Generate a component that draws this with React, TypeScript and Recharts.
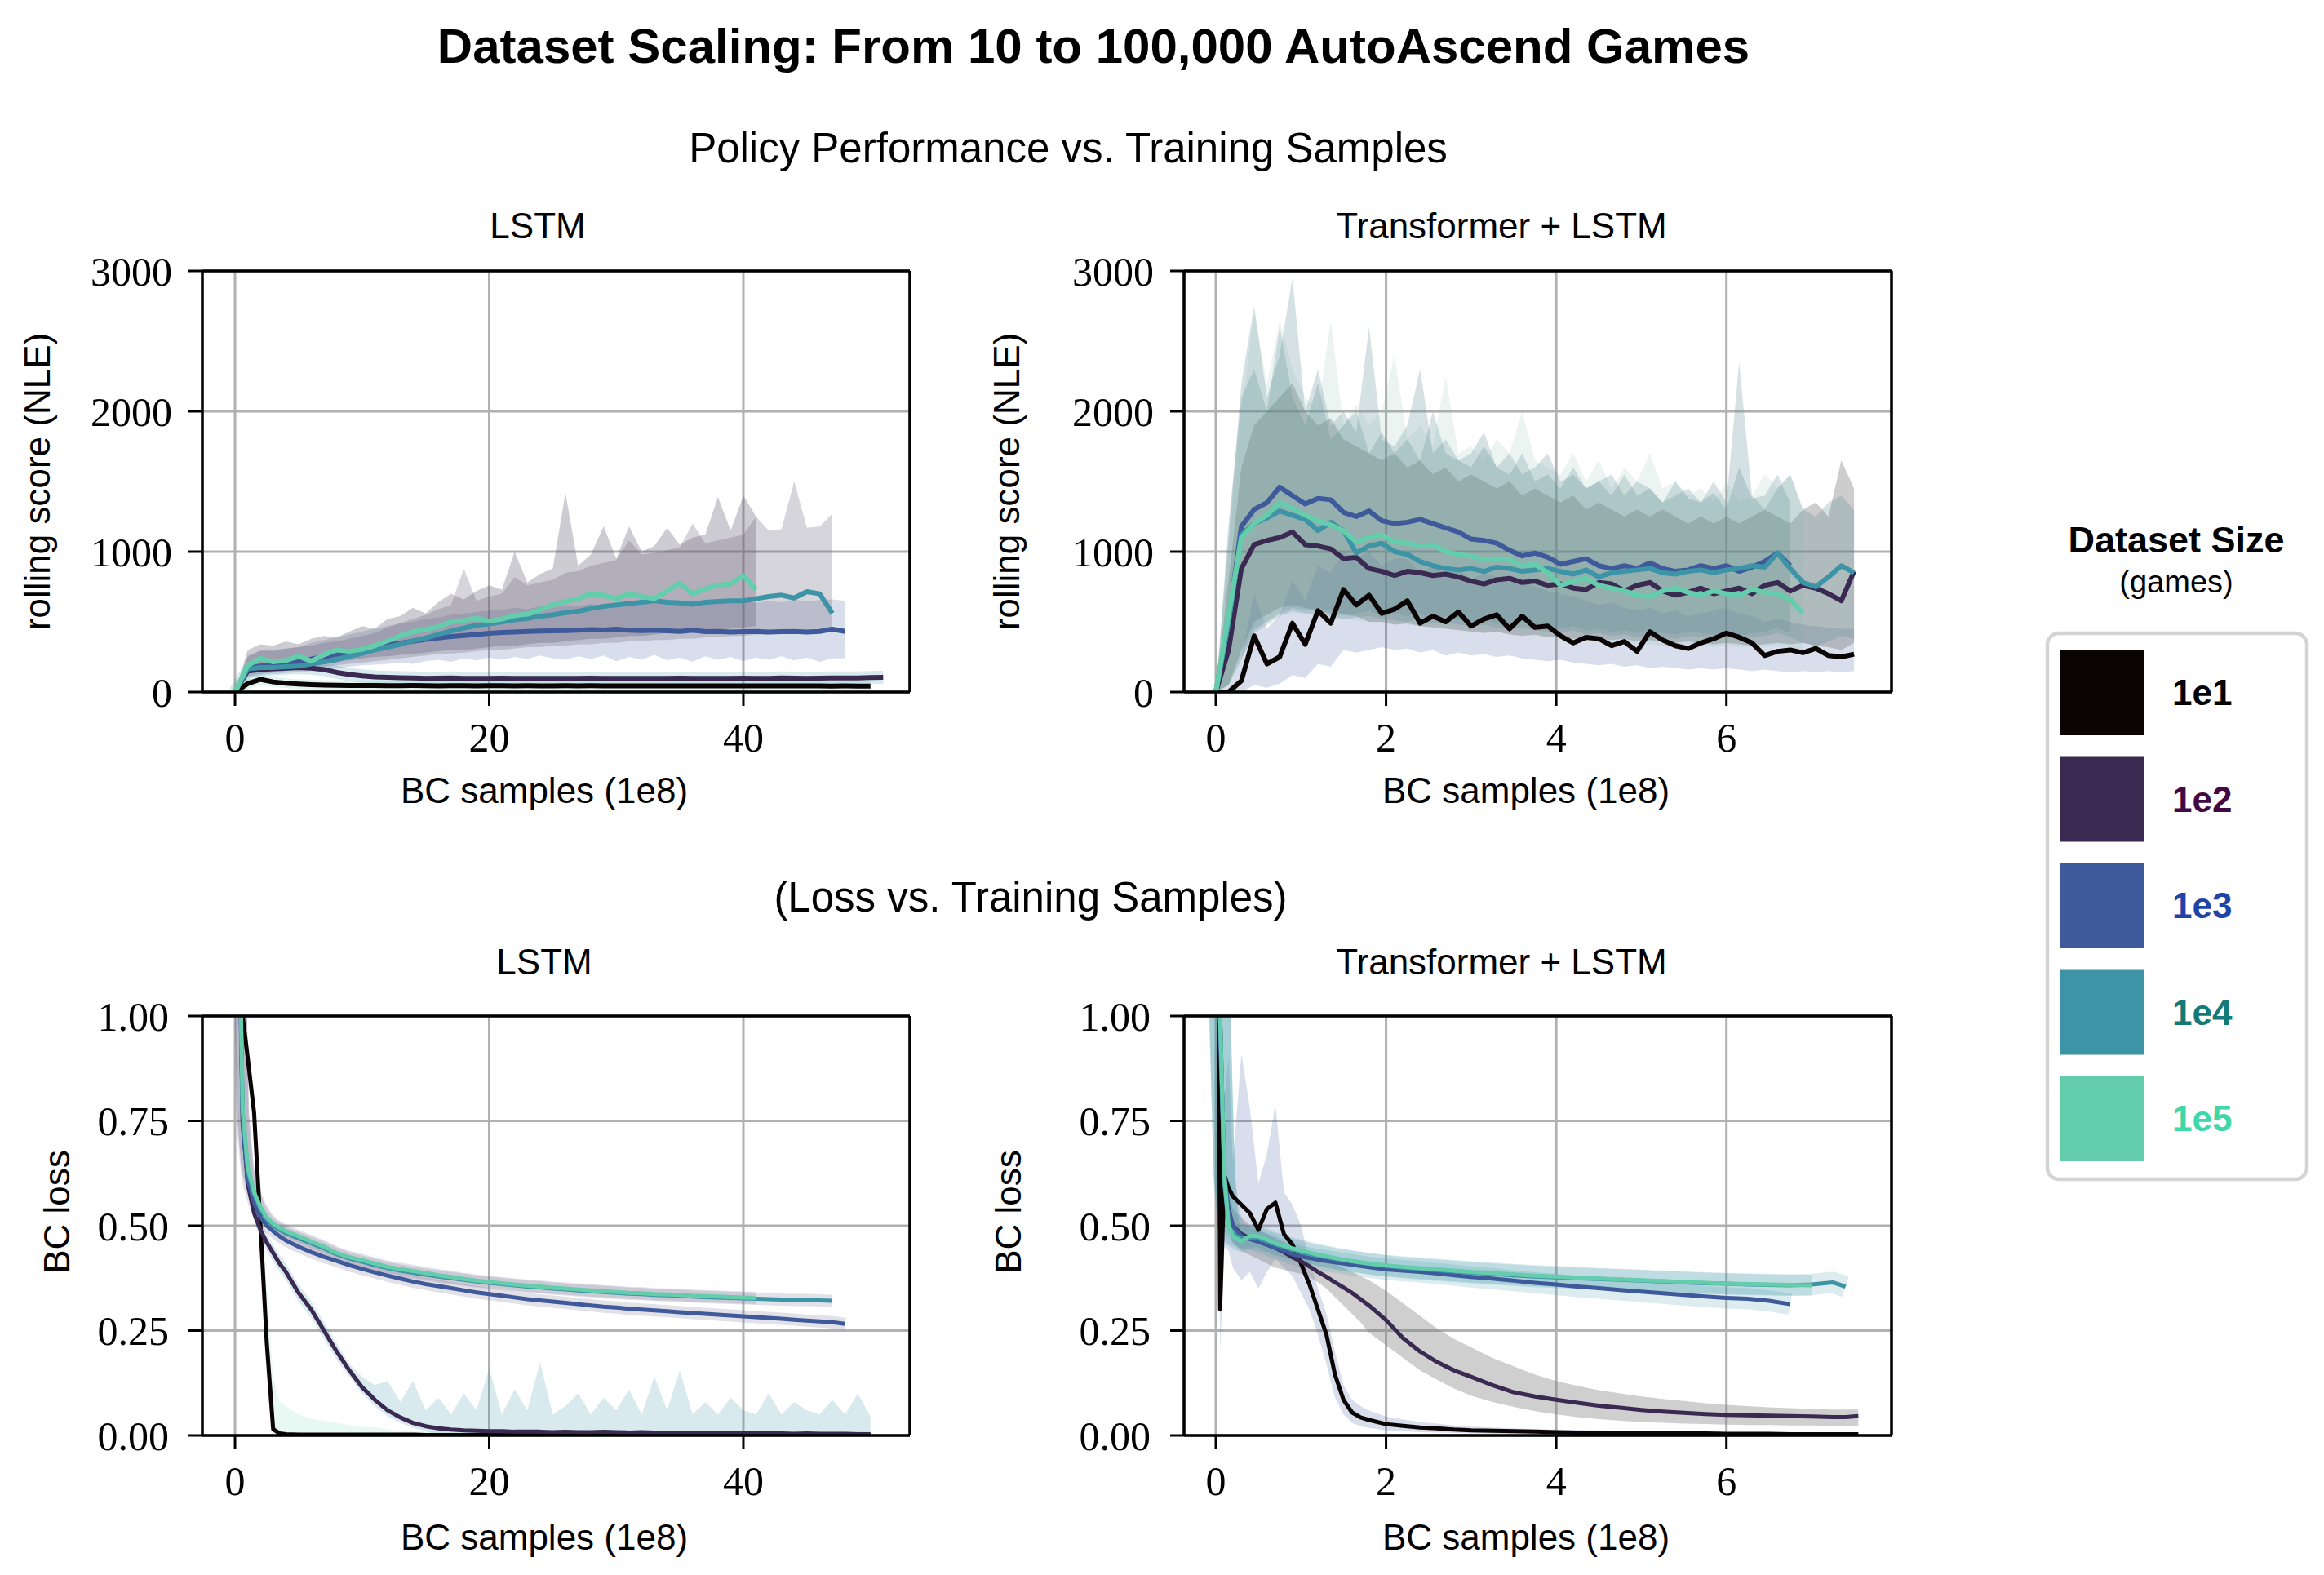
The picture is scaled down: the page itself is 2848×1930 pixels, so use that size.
import React from 'react';
import { Area, CartesianGrid, ComposedChart, Line, ReferenceLine, XAxis, YAxis } from 'recharts';

const SANS = "'Liberation Sans', Arial, Helvetica, sans-serif";
const SERIF = "'Liberation Serif', 'Times New Roman', serif";

const SIZES = ['1e1', '1e2', '1e3', '1e4', '1e5'];
const LINE_COLORS = ['#0b0405', '#3a2951', '#3e5a9b', '#3d94a7', '#64cdab'];
const LABEL_COLORS = ['#000000', '#420a44', '#1f44a8', '#147a78', '#3fd6a8'];

const SCORE_TICKS = [0, 1000, 2000, 3000];
const LOSS_TICKS = [0, 0.25, 0.5, 0.75, 1];
const LSTM_X_TICKS = [0, 20, 40];
const TRANSFORMER_X_TICKS = [0, 2, 4, 6];

// ---- rolling score, LSTM (x in 1e8 BC samples) ----
const scoreLstmX = [0, 1, 2, 3, 4, 5, 6, 7, 8, 9, 10, 11, 12, 13, 14, 15, 16, 17, 18, 19, 20, 21, 22, 23, 24, 25, 26, 27, 28, 29, 30, 31, 32, 33, 34, 35, 36, 37, 38, 39, 40, 41, 42, 43, 44, 45, 46, 47, 48, 49, 50, 51];
const scoreLstm1e1 = [0, 60, 90, 72, 62, 56, 52, 50, 48, 47, 46, 46, 45, 45, 46, 45, 44, 45, 45, 44, 45, 45, 44, 45, 44, 44, 45, 44, 45, 44, 44, 43, 44, 44, 43, 44, 44, 43, 44, 43, 43, 44, 43, 43, 44, 43, 43, 42, 43, 42, 42];
const scoreLstm1e2 = [0, 150, 160, 165, 170, 175, 170, 160, 140, 125, 115, 108, 104, 102, 100, 98, 99, 100, 98, 97, 98, 99, 98, 97, 98, 98, 97, 98, 99, 98, 97, 98, 98, 97, 98, 99, 98, 98, 97, 98, 99, 98, 98, 100, 99, 98, 99, 100, 101, 100, 103, 104];
const scoreLstm1e3 = [0, 170, 185, 195, 205, 215, 235, 250, 268, 285, 300, 318, 335, 348, 362, 375, 385, 395, 403, 410, 418, 425, 428, 432, 435, 436, 438, 440, 445, 442, 448, 440, 438, 440, 436, 432, 440, 430, 432, 428, 430, 432, 428, 430, 432, 428, 432, 448, 432];
const scoreLstm1e4 = [0, 165, 175, 175, 180, 185, 200, 215, 230, 255, 275, 300, 320, 340, 365, 385, 410, 435, 455, 475, 485, 500, 515, 525, 540, 550, 565, 575, 595, 610, 620, 630, 640, 650, 640, 635, 625, 640, 645, 650, 650, 665, 680, 690, 670, 715, 700, 560];
const scoreLstm1e5 = [0, 190, 240, 215, 225, 255, 220, 265, 300, 290, 305, 330, 365, 400, 430, 445, 465, 500, 510, 525, 505, 520, 545, 555, 585, 620, 645, 665, 700, 690, 665, 700, 680, 665, 720, 775, 700, 735, 760, 770, 830, 730];
const scoreLstm1e3Lo = [0, 100, 120, 130, 135, 140, 150, 160, 170, 180, 190, 195, 200, 210, 200, 220, 230, 215, 240, 225, 245, 230, 250, 235, 260, 240, 230, 255, 235, 260, 220, 250, 230, 265, 225, 245, 215, 255, 230, 250, 220, 245, 230, 255, 225, 245, 215, 240, 240];
const scoreLstm1e3Hi = [0, 260, 290, 300, 310, 320, 350, 370, 390, 410, 430, 450, 470, 490, 500, 520, 530, 550, 560, 570, 580, 585, 600, 590, 610, 600, 620, 610, 630, 615, 640, 620, 650, 625, 640, 630, 655, 630, 650, 640, 660, 635, 650, 640, 660, 645, 655, 660, 650];
const scoreLstm1e4Lo = [0, 110, 130, 140, 150, 160, 170, 180, 190, 200, 210, 220, 230, 240, 250, 260, 270, 275, 280, 290, 300, 300, 310, 320, 320, 330, 330, 340, 340, 350, 350, 360, 360, 370, 370, 380, 380, 390, 390, 400, 400, 410, 410, 420, 420, 420, 430, 430];
const scoreLstm1e4Hi = [0, 250, 300, 290, 310, 320, 330, 350, 360, 380, 400, 420, 460, 490, 520, 550, 590, 620, 880, 650, 680, 700, 820, 760, 780, 800, 850, 860, 900, 920, 940, 1080, 980, 990, 1010, 1030, 1200, 1060, 1080, 1100, 1120, 1250, 1150, 1160, 1500, 1170, 1180, 1270];
const scoreLstm1e5Lo = [0, 130, 160, 170, 180, 190, 200, 210, 215, 225, 240, 250, 255, 265, 270, 280, 290, 300, 300, 310, 320, 330, 330, 340, 350, 350, 360, 370, 380, 380, 390, 400, 400, 410, 420, 430, 430, 440, 445, 450, 460, 470];
const scoreLstm1e5Hi = [0, 300, 340, 330, 360, 340, 380, 400, 390, 430, 470, 450, 520, 540, 600, 560, 640, 700, 660, 720, 760, 730, 1000, 780, 840, 880, 1420, 900, 980, 1180, 950, 1180, 1000, 1040, 1170, 1050, 1100, 1120, 1390, 1150, 1400, 1250];

// ---- rolling score, Transformer + LSTM ----
const scoreTrX = [0, 0.15, 0.3, 0.45, 0.6, 0.75, 0.9, 1.05, 1.2, 1.35, 1.5, 1.65, 1.8, 1.95, 2.1, 2.25, 2.4, 2.55, 2.7, 2.85, 3, 3.15, 3.3, 3.45, 3.6, 3.75, 3.9, 4.05, 4.2, 4.35, 4.5, 4.65, 4.8, 4.95, 5.1, 5.25, 5.4, 5.55, 5.7, 5.85, 6, 6.15, 6.3, 6.45, 6.6, 6.75, 6.9, 7.05, 7.2, 7.35, 7.5];
const scoreTr1e1 = [0, 0, 80, 400, 200, 250, 490, 340, 580, 490, 730, 620, 690, 560, 590, 650, 490, 540, 500, 570, 470, 520, 550, 450, 540, 460, 470, 400, 350, 390, 380, 330, 360, 290, 430, 370, 330, 310, 350, 380, 420, 390, 350, 260, 290, 300, 280, 310, 260, 250, 270];
const scoreTr1e2 = [0, 300, 880, 1050, 1080, 1100, 1140, 1050, 1040, 1020, 950, 960, 880, 860, 830, 860, 850, 830, 840, 820, 790, 770, 800, 810, 780, 790, 760, 770, 740, 730, 780, 770, 720, 760, 780, 720, 690, 710, 740, 700, 720, 740, 700, 760, 780, 720, 760, 740, 700, 650, 860];
const scoreTr1e3 = [0, 500, 1180, 1300, 1350, 1460, 1400, 1340, 1380, 1370, 1280, 1250, 1290, 1220, 1200, 1210, 1230, 1200, 1170, 1140, 1090, 1080, 1060, 1010, 970, 990, 960, 910, 930, 950, 900, 880, 900, 880, 920, 880, 860, 870, 900, 880, 900, 860, 890, 930, 990, 900];
const scoreTr1e4 = [0, 500, 1120, 1200, 1240, 1290, 1260, 1230, 1150, 1210, 1150, 990, 1040, 1060, 1000, 980, 930, 900, 880, 870, 880, 860, 890, 880, 860, 870, 880, 860, 840, 870, 820, 850, 860, 870, 880, 850, 840, 860, 870, 850, 870, 880, 900, 890, 990, 880, 780, 750, 820, 900, 850];
const scoreTr1e5 = [0, 550, 1100, 1200, 1260, 1350, 1310, 1260, 1220, 1190, 1150, 1070, 1100, 1120, 1070, 1060, 1040, 1050, 1000, 980, 970, 940, 950, 945, 900, 910, 850, 760, 790, 810, 760, 740, 720, 690, 680, 720, 740, 710, 690, 720, 700, 690, 730, 710, 700, 660, 560];
const scoreTr1e1Lo = [0, 0, 0, 50, 30, 60, 120, 100, 200, 180, 300, 280, 300, 320, 300, 310, 280, 300, 260, 280, 260, 270, 250, 260, 240, 230, 220, 230, 210, 200, 190, 200, 180, 190, 170, 180, 170, 160, 170, 160, 170, 160, 150, 160, 150, 140, 150, 140, 150, 140, 150];
const scoreTr1e1Hi = [0, 50, 250, 700, 450, 550, 800, 650, 900, 850, 1000, 950, 1000, 900, 950, 950, 850, 900, 850, 880, 800, 850, 820, 780, 800, 750, 720, 700, 680, 650, 620, 640, 600, 580, 600, 560, 580, 540, 560, 580, 600, 560, 540, 500, 520, 500, 480, 470, 460, 450, 450];
const scoreTr1e2Lo = [0, 50, 300, 500, 550, 600, 620, 600, 580, 560, 550, 540, 500, 500, 480, 490, 470, 460, 450, 440, 430, 420, 430, 410, 400, 410, 390, 400, 380, 390, 380, 370, 380, 360, 370, 360, 350, 360, 350, 340, 350, 340, 330, 340, 350, 340, 350, 330, 320, 300, 350];
const scoreTr1e2Hi = [0, 800, 1600, 1900, 2000, 2100, 2200, 2000, 1900, 1950, 1800, 1750, 1700, 1650, 1700, 1600, 1650, 1550, 1600, 1500, 1550, 1500, 1450, 1500, 1400, 1450, 1400, 1350, 1400, 1300, 1350, 1300, 1250, 1300, 1250, 1300, 1250, 1200, 1250, 1200, 1250, 1200, 1250, 1300, 1250, 1200, 1300, 1350, 1250, 1650, 1450];
const scoreTr1e3Lo = [0, 50, 250, 450, 500, 560, 600, 580, 600, 580, 560, 560, 580, 540, 560, 540, 560, 520, 540, 520, 500, 520, 490, 480, 500, 470, 460, 450, 470, 440, 450, 430, 440, 420, 440, 420, 410, 430, 420, 410, 430, 400, 420, 430, 460, 420];
const scoreTr1e3Hi = [0, 1200, 2100, 2300, 2000, 2600, 2100, 1900, 2200, 1800, 1900, 2000, 1700, 1850, 1700, 1800, 1650, 2000, 1700, 1650, 1600, 1750, 1600, 1550, 1700, 1500, 1550, 1450, 1600, 1450, 1500, 1400, 1550, 1400, 1450, 1350, 1500, 1380, 1350, 1420, 1300, 1600, 1380, 1400, 1550, 1350];
const scoreTr1e4Lo = [0, 50, 230, 420, 480, 540, 580, 560, 560, 540, 520, 530, 540, 520, 510, 500, 520, 490, 500, 480, 470, 480, 460, 450, 460, 440, 430, 420, 440, 410, 420, 400, 410, 390, 410, 390, 380, 400, 390, 380, 400, 380, 390, 400, 420, 390, 350, 330, 360, 400, 380];
const scoreTr1e4Hi = [0, 1100, 2200, 2750, 2100, 2400, 2950, 2000, 2300, 1900, 2000, 1850, 2600, 1800, 1750, 1900, 2300, 1700, 1800, 1650, 1700, 1850, 1600, 1700, 1550, 1600, 1700, 1500, 1550, 1450, 1500, 1550, 1400, 1500, 1450, 1350, 1400, 1450, 1350, 1500, 1350, 2350, 1400, 1300, 1450, 1550, 1300, 1250, 1350, 1400, 1300];
const scoreTr1e5Lo = [0, 60, 260, 440, 500, 550, 560, 560, 540, 530, 520, 510, 500, 500, 490, 480, 470, 470, 460, 450, 440, 430, 430, 420, 410, 400, 400, 390, 380, 370, 360, 360, 350, 340, 340, 330, 330, 340, 330, 320, 330, 320, 330, 320, 330, 320, 300];
const scoreTr1e5Hi = [0, 1000, 2000, 2700, 2200, 2650, 2300, 2100, 2000, 2650, 1900, 2050, 1900, 2000, 2400, 1800, 1900, 1750, 2250, 1700, 1750, 1650, 1800, 1700, 2000, 1650, 1600, 1550, 1700, 1500, 1650, 1450, 1600, 1500, 1700, 1450, 1500, 1400, 1450, 1350, 1500, 1350, 1400, 1550, 1450, 1550, 1300];

// ---- BC loss, LSTM ----
const lossLstmX = [0.3, 0.6, 1, 1.5, 2, 2.5, 3, 3.5, 4, 5, 6, 7, 8, 9, 10, 11, 12, 13, 14, 15, 16, 17, 18, 19, 20, 21, 22, 23, 24, 25, 26, 27, 28, 29, 30, 31, 32, 33, 34, 35, 36, 37, 38, 39, 40, 41, 42, 43, 44, 45, 46, 47, 48, 49, 50];
const lossLstm1e1 = [1.4, 1.0, 0.9, 0.77, 0.5, 0.22, 0.015, 0.005, 0.003, 0.002, 0.002, 0.002, 0.002, 0.002, 0.002, 0.002, 0.002, 0.002, 0.002, 0.001, 0.001, 0.001, 0.001, 0.001, 0.001, 0.001, 0.001, 0.001, 0.001, 0.001, 0.001, 0.001, 0.001, 0.001, 0.001, 0.001, 0.001, 0.001, 0.001, 0.001, 0.001, 0.001, 0.001, 0.001, 0.001, 0.001, 0.001, 0.001, 0.001, 0.001, 0.001, 0.001, 0.001, 0.001, 0.001];
const lossLstm1e2 = [1.3, 0.75, 0.6, 0.53, 0.49, 0.46, 0.435, 0.41, 0.39, 0.34, 0.3, 0.25, 0.2, 0.155, 0.115, 0.085, 0.06, 0.043, 0.03, 0.022, 0.017, 0.014, 0.012, 0.011, 0.01, 0.01, 0.009, 0.009, 0.009, 0.008, 0.009, 0.008, 0.008, 0.009, 0.008, 0.007, 0.008, 0.007, 0.007, 0.006, 0.007, 0.006, 0.006, 0.005, 0.006, 0.005, 0.005, 0.005, 0.004, 0.005, 0.004, 0.004, 0.004, 0.003, 0.003];
const lossLstm1e3 = [1.25, 0.74, 0.61, 0.555, 0.52, 0.5, 0.487, 0.475, 0.465, 0.45, 0.437, 0.426, 0.416, 0.406, 0.397, 0.389, 0.381, 0.374, 0.367, 0.361, 0.356, 0.351, 0.346, 0.341, 0.337, 0.333, 0.329, 0.325, 0.322, 0.319, 0.316, 0.313, 0.31, 0.307, 0.305, 0.302, 0.3, 0.298, 0.296, 0.294, 0.292, 0.29, 0.288, 0.286, 0.284, 0.282, 0.28, 0.278, 0.276, 0.274, 0.272, 0.27, 0.266];
const lossLstm1e4 = [1.3, 0.77, 0.63, 0.575, 0.54, 0.515, 0.5, 0.49, 0.482, 0.47, 0.458, 0.446, 0.432, 0.422, 0.414, 0.406, 0.399, 0.393, 0.388, 0.383, 0.379, 0.375, 0.371, 0.367, 0.364, 0.361, 0.358, 0.355, 0.353, 0.35, 0.348, 0.346, 0.344, 0.342, 0.34, 0.338, 0.337, 0.335, 0.334, 0.333, 0.331, 0.33, 0.329, 0.328, 0.327, 0.326, 0.325, 0.324, 0.323, 0.323, 0.322, 0.321];
const lossLstm1e5 = [1.3, 0.78, 0.64, 0.58, 0.545, 0.52, 0.505, 0.495, 0.487, 0.475, 0.462, 0.45, 0.435, 0.425, 0.418, 0.41, 0.402, 0.397, 0.392, 0.387, 0.382, 0.378, 0.373, 0.369, 0.366, 0.363, 0.36, 0.357, 0.355, 0.352, 0.35, 0.348, 0.346, 0.344, 0.342, 0.34, 0.339, 0.337, 0.336, 0.335, 0.333, 0.332, 0.331, 0.33, 0.329, 0.328];
const lossLstm1e1Lo = [1.2, 0.95, 0.85, 0.72, 0.42, 0.12, 0, 0, 0, 0, 0, 0, 0, 0, 0, 0, 0, 0, 0, 0, 0, 0, 0, 0, 0, 0, 0, 0, 0, 0, 0, 0, 0, 0, 0, 0, 0, 0, 0, 0, 0, 0, 0, 0, 0, 0, 0, 0, 0, 0, 0, 0, 0, 0, 0];
const lossLstm1e1Hi = [1.4, 1.0, 0.95, 0.8, 0.6, 0.35, 0.14, 0.08, 0.07, 0.05, 0.04, 0.035, 0.03, 0.025, 0.02, 0.02, 0.015, 0.01, 0.01, 0.01, 0.01, 0.01, 0.01, 0.01, 0.01, 0.01, 0.01, 0.01, 0.01, 0.01, 0.01, 0.01, 0.01, 0.01, 0.01, 0.01, 0.01, 0.01, 0.01, 0.01, 0.01, 0.01, 0.01, 0.01, 0.01, 0.01, 0.01, 0.01, 0.01, 0.01, 0.01, 0.01, 0.01, 0.01, 0.01];
const lossLstm1e2Lo = [1.2, 0.72, 0.58, 0.51, 0.47, 0.44, 0.415, 0.39, 0.37, 0.32, 0.28, 0.23, 0.18, 0.14, 0.1, 0.07, 0.045, 0.03, 0.018, 0.01, 0, 0, 0, 0, 0, 0, 0, 0, 0, 0, 0, 0, 0, 0, 0, 0, 0, 0, 0, 0, 0, 0, 0, 0, 0, 0, 0, 0, 0, 0, 0, 0, 0, 0, 0];
const lossLstm1e2Hi = [1.3, 0.78, 0.62, 0.55, 0.51, 0.48, 0.455, 0.43, 0.41, 0.36, 0.32, 0.27, 0.22, 0.17, 0.14, 0.12, 0.13, 0.08, 0.13, 0.06, 0.09, 0.05, 0.1, 0.06, 0.16, 0.05, 0.11, 0.06, 0.175, 0.05, 0.07, 0.1, 0.05, 0.09, 0.06, 0.11, 0.05, 0.14, 0.06, 0.155, 0.05, 0.08, 0.05, 0.09, 0.06, 0.05, 0.1, 0.05, 0.08, 0.06, 0.05, 0.085, 0.05, 0.1, 0.045];

// ---- BC loss, Transformer + LSTM ----
const lossTrX = [0.03, 0.05, 0.1, 0.15, 0.2, 0.3, 0.4, 0.5, 0.6, 0.7, 0.8, 0.9, 1.0, 1.1, 1.2, 1.3, 1.4, 1.5, 1.6, 1.7, 1.8, 2.0, 2.2, 2.4, 2.6, 2.8, 3.0, 3.25, 3.5, 3.75, 4.0, 4.25, 4.5, 4.75, 5.0, 5.25, 5.5, 5.75, 6.0, 6.25, 6.5, 6.75, 7.0, 7.25, 7.4, 7.55];
const lossTr1e1 = [1.3, 0.3, 0.62, 0.59, 0.57, 0.55, 0.53, 0.49, 0.54, 0.555, 0.48, 0.455, 0.41, 0.36, 0.3, 0.24, 0.145, 0.085, 0.055, 0.043, 0.037, 0.027, 0.023, 0.019, 0.017, 0.014, 0.012, 0.011, 0.01, 0.009, 0.008, 0.007, 0.007, 0.006, 0.006, 0.005, 0.005, 0.005, 0.004, 0.004, 0.004, 0.003, 0.003, 0.003, 0.003, 0.003];
const lossTr1e2 = [1.3, 1.0, 0.6, 0.53, 0.5, 0.48, 0.47, 0.462, 0.455, 0.447, 0.437, 0.425, 0.415, 0.403, 0.39, 0.378, 0.365, 0.353, 0.34, 0.325, 0.31, 0.275, 0.232, 0.2, 0.175, 0.155, 0.14, 0.12, 0.103, 0.093, 0.085, 0.078, 0.071, 0.066, 0.061, 0.057, 0.054, 0.051, 0.049, 0.048, 0.047, 0.046, 0.045, 0.044, 0.044, 0.046];
const lossTr1e3 = [1.3, 0.95, 0.62, 0.54, 0.5, 0.475, 0.468, 0.462, 0.455, 0.447, 0.44, 0.432, 0.427, 0.423, 0.419, 0.416, 0.413, 0.41, 0.407, 0.404, 0.401, 0.396, 0.393, 0.39, 0.386, 0.382, 0.378, 0.374, 0.369, 0.364, 0.36, 0.355, 0.351, 0.347, 0.343, 0.339, 0.335, 0.331, 0.328, 0.326, 0.321, 0.313];
const lossTr1e4 = [1.3, 1.0, 0.6, 0.5, 0.48, 0.47, 0.472, 0.47, 0.462, 0.455, 0.449, 0.443, 0.438, 0.433, 0.429, 0.425, 0.421, 0.418, 0.415, 0.412, 0.409, 0.404, 0.4, 0.397, 0.394, 0.391, 0.388, 0.385, 0.382, 0.379, 0.377, 0.375, 0.373, 0.371, 0.369, 0.367, 0.365, 0.363, 0.362, 0.36, 0.359, 0.358, 0.36, 0.365, 0.355];
const lossTr1e5 = [1.3, 1.0, 0.62, 0.5, 0.475, 0.463, 0.476, 0.475, 0.467, 0.458, 0.452, 0.446, 0.441, 0.436, 0.431, 0.427, 0.423, 0.419, 0.416, 0.413, 0.41, 0.405, 0.402, 0.399, 0.396, 0.393, 0.39, 0.387, 0.384, 0.381, 0.379, 0.376, 0.374, 0.372, 0.37, 0.368, 0.366, 0.364, 0.362, 0.361, 0.36, 0.359, 0.358];
const lossTr1e1Lo = [1.2, 0.2, 0.45, 0.44, 0.4, 0.37, 0.39, 0.35, 0.39, 0.42, 0.4, 0.38, 0.34, 0.3, 0.24, 0.17, 0.09, 0.05, 0.03, 0.022, 0.018, 0.012, 0.01, 0.008, 0.007, 0.006, 0.005, 0.004, 0.004, 0.004, 0.004, 0.003, 0.003, 0.003, 0.003, 0.003, 0.002, 0.002, 0.002, 0.002, 0.002, 0.002, 0.002, 0.002, 0.002, 0.002];
const lossTr1e1Hi = [1.3, 1.0, 0.8, 0.9, 0.65, 0.91, 0.78, 0.6, 0.67, 0.79, 0.58, 0.55, 0.5, 0.42, 0.35, 0.29, 0.2, 0.12, 0.085, 0.07, 0.06, 0.045, 0.038, 0.032, 0.028, 0.024, 0.021, 0.019, 0.017, 0.015, 0.014, 0.013, 0.012, 0.011, 0.01, 0.01, 0.009, 0.009, 0.008, 0.008, 0.008, 0.007, 0.007, 0.007, 0.007, 0.007];
const lossTr1e2Lo = [1.2, 0.9, 0.55, 0.49, 0.46, 0.44, 0.43, 0.42, 0.41, 0.4, 0.395, 0.39, 0.385, 0.378, 0.365, 0.35, 0.33, 0.31, 0.29, 0.27, 0.245, 0.215, 0.185, 0.155, 0.133, 0.112, 0.095, 0.08, 0.068, 0.058, 0.05, 0.044, 0.039, 0.035, 0.032, 0.03, 0.028, 0.027, 0.026, 0.025, 0.025, 0.024, 0.024, 0.023, 0.023, 0.023];
const lossTr1e2Hi = [1.3, 1.0, 0.66, 0.58, 0.54, 0.52, 0.5, 0.49, 0.48, 0.47, 0.46, 0.445, 0.44, 0.432, 0.425, 0.418, 0.41, 0.4, 0.39, 0.38, 0.37, 0.345, 0.315, 0.285, 0.255, 0.23, 0.21, 0.185, 0.165, 0.145, 0.13, 0.118, 0.108, 0.1, 0.093, 0.087, 0.082, 0.077, 0.073, 0.07, 0.067, 0.065, 0.063, 0.062, 0.062, 0.062];

// merge the per-size arrays of one panel into rows keyed by x
function buildRows(xs, series) {
  return xs.map((x, i) => {
    const row = { x };
    series.forEach((s, k) => {
      if (i < s.mean.length) row['m' + k] = s.mean[i];
      if (s.lo && i < s.lo.length) row['b' + k] = [s.lo[i], s.hi[i]];
    });
    return row;
  });
}

const PANELS = [
  {
    key: 'scoreLstm',
    plot: { x: 248, y: 332, w: 867, h: 516 },
    rows: buildRows(scoreLstmX, [
      { mean: scoreLstm1e1 },
      { mean: scoreLstm1e2 },
      { mean: scoreLstm1e3, lo: scoreLstm1e3Lo, hi: scoreLstm1e3Hi },
      { mean: scoreLstm1e4, lo: scoreLstm1e4Lo, hi: scoreLstm1e4Hi },
      { mean: scoreLstm1e5, lo: scoreLstm1e5Lo, hi: scoreLstm1e5Hi },
    ]),
    xDomain: [-2.57, 53.1],
    xTicks: LSTM_X_TICKS,
    yDomain: [0, 3000],
    yTicks: SCORE_TICKS,
    fmt: (v) => String(v),
    tickGap: 20,
    lineWidth: 6,
    bands: [
      { kind: 'wide', color: '#64cdab', opacity: 0.2, width: 12 },
      { kind: 'wide', color: '#3d94a7', opacity: 0.2, width: 16 },
      { kind: 'area', color: '#3e5a9b', opacity: 0.2 },
      { kind: 'area', color: '#6e6880', opacity: 0.28 },
      { kind: 'area', color: '#5d566e', opacity: 0.3 },
    ],
  },
  {
    key: 'scoreTr',
    plot: { x: 1451, y: 332, w: 867, h: 516 },
    rows: buildRows(scoreTrX, [
      { mean: scoreTr1e1, lo: scoreTr1e1Lo, hi: scoreTr1e1Hi },
      { mean: scoreTr1e2, lo: scoreTr1e2Lo, hi: scoreTr1e2Hi },
      { mean: scoreTr1e3, lo: scoreTr1e3Lo, hi: scoreTr1e3Hi },
      { mean: scoreTr1e4, lo: scoreTr1e4Lo, hi: scoreTr1e4Hi },
      { mean: scoreTr1e5, lo: scoreTr1e5Lo, hi: scoreTr1e5Hi },
    ]),
    xDomain: [-0.374, 7.94],
    xTicks: TRANSFORMER_X_TICKS,
    yDomain: [0, 3000],
    yTicks: SCORE_TICKS,
    fmt: (v) => String(v),
    tickGap: 20,
    lineWidth: 6,
    bands: [
      { kind: 'area', color: '#3e5a9b', opacity: 0.2 },
      { kind: 'area', color: '#707070', opacity: 0.35 },
      { kind: 'area', color: '#56898f', opacity: 0.25 },
      { kind: 'area', color: '#56898f', opacity: 0.25 },
      { kind: 'area', color: '#7fb3a8', opacity: 0.15 },
    ],
  },
  {
    key: 'lossLstm',
    plot: { x: 248, y: 1245, w: 867, h: 514 },
    rows: buildRows(lossLstmX, [
      { mean: lossLstm1e1, lo: lossLstm1e1Lo, hi: lossLstm1e1Hi },
      { mean: lossLstm1e2, lo: lossLstm1e2Lo, hi: lossLstm1e2Hi },
      { mean: lossLstm1e3 },
      { mean: lossLstm1e4 },
      { mean: lossLstm1e5 },
    ]),
    xDomain: [-2.57, 53.1],
    xTicks: LSTM_X_TICKS,
    yDomain: [0, 1],
    yTicks: LOSS_TICKS,
    fmt: (v) => v.toFixed(2),
    tickGap: 24,
    lineWidth: 5,
    bands: [
      { kind: 'area', color: '#64cdab', opacity: 0.15 },
      { kind: 'area', color: '#3d94a7', opacity: 0.2 },
      { kind: 'wide', color: '#7d7896', opacity: 0.22, width: 15 },
      { kind: 'wide', color: '#7d7896', opacity: 0.22, width: 15 },
      { kind: 'wide', color: '#7d7896', opacity: 0.22, width: 15 },
    ],
  },
  {
    key: 'lossTr',
    plot: { x: 1451, y: 1245, w: 867, h: 514 },
    rows: buildRows(lossTrX, [
      { mean: lossTr1e1, lo: lossTr1e1Lo, hi: lossTr1e1Hi },
      { mean: lossTr1e2, lo: lossTr1e2Lo, hi: lossTr1e2Hi },
      { mean: lossTr1e3 },
      { mean: lossTr1e4 },
      { mean: lossTr1e5 },
    ]),
    xDomain: [-0.374, 7.94],
    xTicks: TRANSFORMER_X_TICKS,
    yDomain: [0, 1],
    yTicks: LOSS_TICKS,
    fmt: (v) => v.toFixed(2),
    tickGap: 24,
    lineWidth: 5,
    bands: [
      { kind: 'area', color: '#3e5a9b', opacity: 0.2 },
      { kind: 'area', color: '#808080', opacity: 0.38 },
      { kind: 'wide', color: '#3d94a7', opacity: 0.18, width: 26 },
      { kind: 'wide', color: '#3d94a7', opacity: 0.18, width: 26 },
      { kind: 'wide', color: '#3d94a7', opacity: 0.18, width: 26 },
    ],
  },
];

const Y_AXIS_W = 200;
const X_AXIS_H = 100;
const PAD_TOP = 40;
const PAD_RIGHT = 40;

function Panel({ p }) {
  const width = Y_AXIS_W + p.plot.w + PAD_RIGHT;
  const height = PAD_TOP + p.plot.h + X_AXIS_H;
  const tick = { fontFamily: SERIF, fontSize: 50, fill: '#000' };
  return (
    <div style={{ position: 'absolute', left: p.plot.x - Y_AXIS_W, top: p.plot.y - PAD_TOP, width, height }}>
      <ComposedChart width={width} height={height} data={p.rows} margin={{ top: PAD_TOP, right: PAD_RIGHT, bottom: 0, left: 0 }}>
        <CartesianGrid stroke="#b0b0b0" strokeWidth={3} />
        <XAxis
          type="number"
          dataKey="x"
          domain={p.xDomain}
          ticks={p.xTicks}
          interval={0}
          allowDataOverflow
          height={X_AXIS_H}
          tick={tick}
          tickSize={17}
          tickMargin={20}
          tickLine={{ stroke: '#000', strokeWidth: 3 }}
          axisLine={{ stroke: '#000', strokeWidth: 3.5 }}
        />
        <YAxis
          type="number"
          domain={p.yDomain}
          ticks={p.yTicks}
          interval={0}
          allowDataOverflow
          width={Y_AXIS_W}
          tick={tick}
          tickFormatter={p.fmt}
          tickSize={17}
          tickMargin={p.tickGap}
          tickLine={{ stroke: '#000', strokeWidth: 3 }}
          axisLine={{ stroke: '#000', strokeWidth: 3.5 }}
        />
        {p.bands.map((b, k) =>
          b.kind === 'area' ? (
            <Area
              key={'band' + k}
              dataKey={'b' + k}
              type="linear"
              stroke="none"
              fill={b.color}
              fillOpacity={b.opacity}
              dot={false}
              activeDot={false}
              isAnimationActive={false}
            />
          ) : (
            <Line
              key={'band' + k}
              dataKey={'m' + k}
              type="linear"
              stroke={b.color}
              strokeOpacity={b.opacity}
              strokeWidth={b.width}
              strokeLinejoin="round"
              dot={false}
              activeDot={false}
              isAnimationActive={false}
            />
          )
        )}
        {LINE_COLORS.map((c, k) => (
          <Line
            key={'mean' + k}
            dataKey={'m' + k}
            name={SIZES[k]}
            type="linear"
            stroke={c}
            strokeWidth={p.lineWidth}
            strokeLinejoin="round"
            dot={false}
            activeDot={false}
            isAnimationActive={false}
          />
        ))}
        <ReferenceLine y={p.yDomain[1]} stroke="#000" strokeWidth={3.5} ifOverflow="visible" />
        <ReferenceLine x={p.xDomain[1]} stroke="#000" strokeWidth={3.5} ifOverflow="visible" />
      </ComposedChart>
    </div>
  );
}

function Legend() {
  return (
    <g fontFamily={SANS}>
      <text x={2667} y={677} textAnchor="middle" fontSize={45} fontWeight="bold">Dataset Size</text>
      <text x={2667} y={726} textAnchor="middle" fontSize={38}>(games)</text>
      <rect x={2509} y={776} width={318} height={669} rx={14} fill="#fff" stroke="#d4d4d4" strokeWidth={4.5} />
      {SIZES.map((s, i) => (
        <g key={s}>
          <rect x={2525} y={797 + i * 130.5} width={102} height={104} fill={LINE_COLORS[i]} />
          <text x={2662} y={864 + i * 130.5} fontSize={44} fontWeight="bold" fill={LABEL_COLORS[i]}>{s}</text>
        </g>
      ))}
    </g>
  );
}

export default function App() {
  return (
    <div style={{ position: 'absolute', left: 0, top: 0, width: 2848, height: 1930, background: '#fff', overflow: 'hidden' }}>
      {PANELS.map((p) => (
        <Panel key={p.key} p={p} />
      ))}
      <svg width={2848} height={1930} style={{ position: 'absolute', left: 0, top: 0, pointerEvents: 'none' }}>
        <g fontFamily={SANS} fill="#000">
          <text x={1340} y={77} textAnchor="middle" fontSize={60} fontWeight="bold">
            Dataset Scaling: From 10 to 100,000 AutoAscend Games
          </text>
          <text x={1309} y={199} textAnchor="middle" fontSize={51}>Policy Performance vs. Training Samples</text>
          <text x={1263} y={1117} textAnchor="middle" fontSize={51}>(Loss vs. Training Samples)</text>

          <text x={659} y={292} textAnchor="middle" fontSize={44}>LSTM</text>
          <text x={1840} y={292} textAnchor="middle" fontSize={44}>Transformer + LSTM</text>
          <text x={667} y={1194} textAnchor="middle" fontSize={44}>LSTM</text>
          <text x={1840} y={1194} textAnchor="middle" fontSize={44}>Transformer + LSTM</text>

          <text x={667} y={984} textAnchor="middle" fontSize={44}>BC samples (1e8)</text>
          <text x={1870} y={984} textAnchor="middle" fontSize={44}>BC samples (1e8)</text>
          <text x={667} y={1899} textAnchor="middle" fontSize={44}>BC samples (1e8)</text>
          <text x={1870} y={1899} textAnchor="middle" fontSize={44}>BC samples (1e8)</text>

          <text x={61} y={590} textAnchor="middle" fontSize={44} transform="rotate(-90 61 590)">rolling score (NLE)</text>
          <text x={1249} y={590} textAnchor="middle" fontSize={44} transform="rotate(-90 1249 590)">rolling score (NLE)</text>
          <text x={85} y={1485} textAnchor="middle" fontSize={44} transform="rotate(-90 85 1485)">BC loss</text>
          <text x={1251} y={1485} textAnchor="middle" fontSize={44} transform="rotate(-90 1251 1485)">BC loss</text>
        </g>
        <Legend />
      </svg>
    </div>
  );
}
